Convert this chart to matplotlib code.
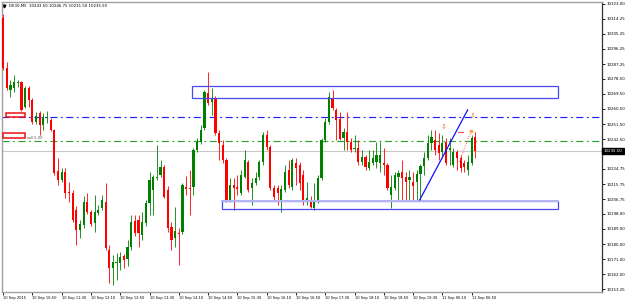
import matplotlib
matplotlib.use("Agg")
import matplotlib.pyplot as plt
import matplotlib.transforms as mtransforms
from matplotlib.patches import Rectangle

# DE30 M5 candles (prices)
title_line = "DE30,M5  10243.50 10246.75 10231.50 10235.50"

opens = [
    10314.7, 10284.9, 10271.8, 10273.0, 10275.9, 10276.5, 10261.7, 10273.0, 10265.8, 10252.7,
    10258.1, 10250.9, 10255.1, 10253.9, 10248.0, 10223.5, 10218.2, 10222.9, 10211.0, 10210.4,
    10200.3, 10188.4, 10191.4, 10205.1, 10199.1, 10192.6, 10198.5, 10201.5, 10205.1, 10176.5,
    10165.8, 10168.7, 10168.7, 10172.9, 10171.1, 10178.3, 10193.8, 10194.4, 10185.4, 10192.6,
    10204.5, 10212.2, 10219.4, 10221.1, 10225.9, 10212.2, 10190.2, 10183.6, 10186.6, 10187.2,
    10214.0, 10213.4, 10214.0, 10236.0, 10240.8, 10249.1, 10270.0, 10264.6, 10267.0, 10246.2,
    10239.0, 10230.1, 10206.3, 10215.2, 10214.0, 10210.4, 10220.0, 10228.9, 10213.4, 10216.4,
    10220.0, 10228.9, 10245.0, 10237.8, 10213.4, 10213.4, 10206.3, 10212.2, 10224.1, 10214.0,
    10228.3, 10227.1, 10221.1, 10205.1, 10206.3, 10201.5, 10205.1, 10219.4, 10242.0, 10252.7,
    10267.0, 10259.9, 10254.5, 10243.2, 10246.8, 10240.8, 10236.6, 10237.2, 10228.9, 10231.9,
    10225.3, 10228.3, 10228.9, 10228.3, 10228.3, 10227.1, 10209.2, 10213.4, 10220.0, 10222.9,
    10220.0, 10218.2, 10217.0, 10217.0, 10221.7, 10226.5, 10231.3, 10240.2, 10242.0, 10239.0,
    10234.8, 10240.8, 10236.0, 10227.1, 10234.8, 10231.3, 10228.3, 10224.1, 10228.3, 10243.5,
]
highs = [
    10317.0, 10288.5, 10277.7, 10280.7, 10277.7, 10277.1, 10274.2, 10274.2, 10267.0, 10258.7,
    10259.3, 10258.1, 10259.3, 10255.1, 10248.5, 10231.3, 10225.3, 10225.3, 10217.0, 10212.2,
    10202.7, 10194.4, 10208.6, 10210.4, 10200.3, 10209.2, 10203.3, 10209.2, 10216.4, 10179.5,
    10173.5, 10174.7, 10175.3, 10174.1, 10182.4, 10197.3, 10197.3, 10197.3, 10199.1, 10206.3,
    10222.9, 10221.1, 10239.0, 10230.1, 10227.1, 10214.6, 10193.2, 10202.1, 10189.6, 10216.4,
    10220.6, 10224.1, 10237.2, 10243.2, 10250.9, 10271.8, 10282.5, 10273.0, 10268.2, 10248.0,
    10242.0, 10231.3, 10219.4, 10219.4, 10221.1, 10224.1, 10236.0, 10230.1, 10219.4, 10222.9,
    10230.1, 10246.8, 10248.0, 10239.0, 10215.2, 10215.2, 10215.2, 10227.1, 10230.1, 10231.3,
    10231.3, 10228.9, 10224.1, 10217.0, 10208.6, 10216.4, 10221.1, 10243.2, 10255.1, 10270.6,
    10271.8, 10261.1, 10258.7, 10249.1, 10258.7, 10243.2, 10245.0, 10242.0, 10236.0, 10233.1,
    10236.0, 10236.0, 10240.8, 10240.8, 10237.2, 10228.3, 10221.1, 10222.9, 10224.1, 10230.1,
    10222.9, 10224.1, 10222.9, 10224.1, 10227.7, 10234.8, 10245.0, 10248.0, 10248.0, 10246.2,
    10245.0, 10243.2, 10243.2, 10237.2, 10236.0, 10233.1, 10230.1, 10233.1, 10245.0, 10246.75,
]
lows = [
    10283.7, 10271.8, 10267.6, 10270.6, 10273.6, 10259.3, 10261.1, 10261.7, 10251.5, 10251.5,
    10245.0, 10248.0, 10252.1, 10247.4, 10221.1, 10215.2, 10217.0, 10207.4, 10205.1, 10193.2,
    10179.5, 10183.6, 10189.6, 10197.9, 10190.8, 10187.2, 10197.3, 10200.3, 10176.5, 10156.8,
    10155.6, 10158.6, 10164.6, 10165.8, 10166.9, 10176.5, 10184.8, 10178.3, 10182.4, 10190.8,
    10197.3, 10197.3, 10218.2, 10220.0, 10207.4, 10187.2, 10176.5, 10178.3, 10167.5, 10186.0,
    10209.2, 10197.3, 10209.2, 10234.8, 10239.6, 10248.0, 10262.8, 10256.9, 10245.0, 10230.1,
    10228.3, 10205.1, 10205.1, 10200.3, 10209.2, 10209.2, 10219.4, 10211.0, 10203.3, 10215.2,
    10218.2, 10227.1, 10236.0, 10212.2, 10206.3, 10203.3, 10199.1, 10211.0, 10213.4, 10212.2,
    10215.2, 10212.2, 10203.3, 10203.3, 10201.5, 10200.3, 10204.5, 10218.2, 10240.8, 10251.5,
    10259.9, 10242.0, 10242.0, 10236.0, 10236.0, 10234.8, 10234.8, 10227.1, 10227.1, 10224.1,
    10224.1, 10227.1, 10225.3, 10222.9, 10221.1, 10212.2, 10201.5, 10212.2, 10206.3, 10206.3,
    10206.3, 10206.3, 10206.3, 10206.3, 10206.3, 10221.1, 10230.1, 10236.0, 10233.1, 10230.1,
    10231.3, 10227.1, 10227.1, 10225.9, 10224.1, 10222.9, 10222.9, 10221.1, 10227.1, 10231.5,
]
closes = [
    10284.9, 10273.0, 10274.8, 10276.5, 10276.5, 10259.9, 10273.0, 10265.8, 10252.7, 10256.3,
    10250.9, 10255.7, 10255.7, 10248.0, 10222.3, 10218.2, 10222.9, 10210.4, 10210.4, 10194.4,
    10188.4, 10192.0, 10205.1, 10199.1, 10192.0, 10199.1, 10200.3, 10206.3, 10177.7, 10165.8,
    10169.3, 10169.3, 10172.3, 10170.5, 10178.3, 10193.2, 10186.6, 10186.6, 10193.2, 10204.5,
    10218.2, 10220.0, 10220.0, 10225.9, 10208.0, 10189.6, 10182.4, 10187.8, 10186.0, 10215.2,
    10212.8, 10212.8, 10236.0, 10240.8, 10248.0, 10270.6, 10264.0, 10267.0, 10246.2, 10240.2,
    10230.1, 10206.3, 10215.2, 10213.4, 10212.8, 10221.1, 10230.1, 10212.2, 10216.4, 10219.4,
    10228.9, 10245.0, 10237.8, 10213.4, 10208.0, 10210.4, 10212.8, 10222.9, 10215.2, 10230.1,
    10225.3, 10216.4, 10205.1, 10207.4, 10202.1, 10206.3, 10219.4, 10242.0, 10252.7, 10267.6,
    10261.1, 10253.9, 10242.6, 10246.8, 10240.8, 10236.0, 10237.2, 10228.9, 10231.9, 10225.9,
    10228.9, 10231.3, 10233.1, 10233.1, 10227.1, 10213.4, 10214.0, 10221.1, 10222.3, 10219.4,
    10217.0, 10220.0, 10214.6, 10221.7, 10226.5, 10231.3, 10240.2, 10243.8, 10236.0, 10234.3,
    10240.2, 10228.3, 10237.2, 10234.8, 10231.3, 10225.3, 10225.9, 10228.9, 10243.2, 10235.5,
]

x_tick_bars = [0, 8, 16, 24, 32, 40, 48, 56, 64, 72, 80, 88, 96, 104, 112, 120, 128]
x_tick_labels = ["10 Sep 2015", "10 Sep 10:50", "10 Sep 11:30", "10 Sep 12:10", "10 Sep 12:50",
                 "10 Sep 13:30", "10 Sep 14:10", "10 Sep 14:50", "10 Sep 15:30", "10 Sep 16:10",
                 "10 Sep 16:50", "10 Sep 17:30", "10 Sep 18:10", "10 Sep 18:50", "10 Sep 19:30",
                 "11 Sep 06:10", "11 Sep 06:50"]
y_ticks = [10323.00, 10314.25, 10305.25, 10296.25, 10287.25, 10278.50, 10269.50, 10260.50,
           10251.50, 10242.50, 10224.75, 10215.75, 10206.75, 10198.00, 10189.00, 10180.00,
           10171.00, 10162.00, 10153.25]

# drawn objects: [bar_start, bar_end, price_low, price_high]
upper_zone = [51.6, 151.6, 10267.0, 10273.9]
lower_zone = [59.8, 151.6, 10200.9, 10205.7]
blue_level = 10255.7
green_level = 10241.4
bid_price = 10235.5
trend_bars = [113.8, 126.9]
trend_prices = [10206.3, 10259.9]
trade_bars = [124.6, 127.9]
trade_prices = [10228.9, 10247.4]
arrow_marks = [(120.5, 10249.7), (128.4, 10256.3)]

BULL = "#008000"
BEAR = "#ff0000"

fig = plt.figure(figsize=(6.25, 3.01), dpi=100)
ax = fig.add_axes([2 / 625, 9 / 301, 600 / 625, 290 / 301])

for i in range(len(opens)):
    o, h, l, c = opens[i], highs[i], lows[i], closes[i]
    col = BULL if c >= o else BEAR
    ax.vlines(i, l, h, color=col, lw=0.6, zorder=3)
    ax.bar(i, max(abs(c - o), 0.4), bottom=min(o, c), width=0.6, color=col, lw=0, zorder=4)

# levels
ax.axhline(bid_price, color="#c8c8c8", lw=0.8, zorder=1)
ax.axhline(blue_level, color="#2020ff", lw=0.85, ls=(0, (6, 3, 1.5, 3)), zorder=2)
ax.axhline(green_level, color="#30a030", lw=0.85, ls=(0, (6, 3, 1.5, 3)), zorder=2)

# zones
b0, b1, p0, p1 = upper_zone
ax.add_patch(Rectangle((b0, p0), b1 - b0, p1 - p0, fill=False, ec="#4848f0", lw=0.9, zorder=5))
b0, b1, p0, p1 = lower_zone
ax.add_patch(Rectangle((b0, p0), b1 - b0, p1 - p0, fill=False, ec="#4848f0", lw=0.9, zorder=5))
ax.plot([b0, b1], [p1, p1], color="#b4b4f4", lw=1.4, zorder=5)

# trend line and trade marks
ax.plot(trend_bars, trend_prices, color="#1010ff", lw=0.9, zorder=6)
ax.plot(trade_bars, trade_prices, color="#ff6060", lw=0.7, ls=(0, (1, 1.5)), zorder=6)
ax.plot(trade_bars[1], trade_prices[1], marker="o", ms=1.6, color="#ffa040", zorder=7)
ax.plot([124.2, 125.6], [10246.8, 10246.8], color="#ff5050", lw=0.8, zorder=6)
for bx, py in arrow_marks:
    ax.text(bx, py, "\u21e9", color="#ff5a30", fontsize=5, ha="center", va="center", zorder=7)

# redaction boxes over the order labels
ax.add_patch(Rectangle((0.8, 10255.4), 5.2, 2.7, fc="white", ec="#ee1010", lw=1.1, zorder=8))
ax.add_patch(Rectangle((0.0, 10243.2), 6.0, 3.0, fc="white", ec="#ee1010", lw=1.1, zorder=8))
ax.text(6.6, 10242.2, "sell 5.00", fontsize=2.6, color="#505050", va="bottom", ha="left", zorder=8)

ax.set_xlim(-0.3, 163.6)
ax.set_ylim(10151.47, 10324.19)

ax.yaxis.tick_right()
ax.set_yticks(y_ticks)
ax.set_yticklabels([f"{v:.2f}" for v in y_ticks])
ax.tick_params(axis="y", length=2, width=0.6, pad=1.2, labelsize=2.9, colors="black")
ax.set_xticks(x_tick_bars)
ax.set_xticklabels(x_tick_labels, ha="left")
ax.tick_params(axis="x", length=2, width=0.6, pad=0.6, labelsize=2.6, colors="black")

for side in ["left", "top", "bottom"]:
    ax.spines[side].set_color("#a0a0a0")
    ax.spines[side].set_linewidth(1.0)
ax.spines["right"].set_color("#303030")
ax.spines["right"].set_linewidth(0.9)

# symbol header and current price tag
ax.plot(0.004, 0.987, marker="v", ms=2.0, color="black", transform=ax.transAxes, clip_on=False)
ax.text(0.012, 0.987, title_line, fontsize=2.8, color="black", ha="left", va="center",
        transform=ax.transAxes)
blend = mtransforms.blended_transform_factory(ax.transAxes, ax.transData)
ax.text(1.003, bid_price, f"{bid_price:.2f}", transform=blend, fontsize=2.9, color="white",
        ha="left", va="center", bbox=dict(boxstyle="square,pad=0.35", fc="black", ec="black"))

fig.savefig("out.png", dpi=100)
